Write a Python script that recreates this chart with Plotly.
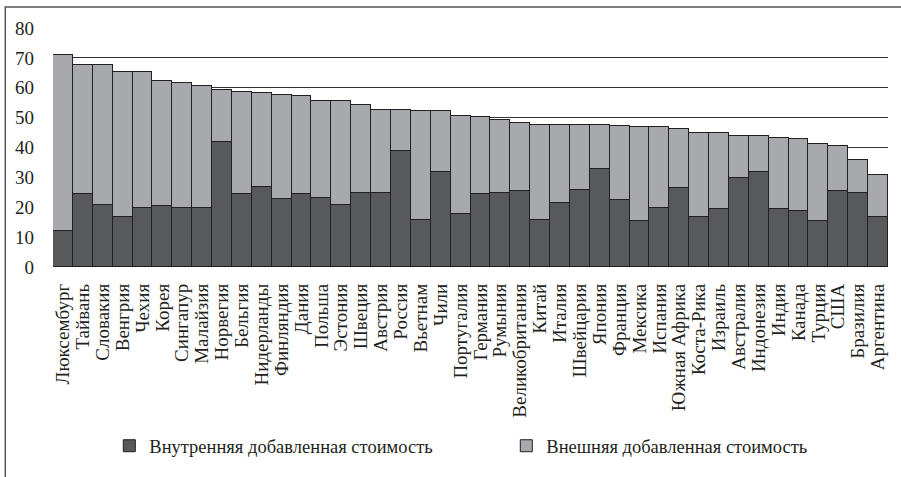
import plotly.graph_objects as go

countries = ["Люксембург", "Тайвань", "Словакия", "Венгрия", "Чехия", "Корея", "Сингапур",
             "Малайзия", "Норвегия", "Бельгия", "Нидерланды", "Финляндия", "Дания", "Польша",
             "Эстония", "Швеция", "Австрия", "Россия", "Вьетнам", "Чили", "Португалия",
             "Германия", "Румыния", "Великобритания", "Китай", "Италия", "Швейцария", "Япония",
             "Франция", "Мексика", "Испания", "Южная Африка", "Коста-Рика", "Израиль",
             "Австралия", "Индонезия", "Индия", "Канада", "Турция", "США", "Бразилия", "Аргентина"]

totals = [71.1, 67.6, 67.6, 65.2, 65.2, 62.3, 61.6, 60.6, 59.3, 58.6, 58.2, 57.6, 57.1, 55.7,
          55.7, 54.2, 52.7, 52.7, 52.2, 52.2, 50.7, 50.2, 49.2, 48.2, 47.7, 47.7, 47.7, 47.7,
          47.2, 46.7, 46.7, 46.1, 44.7, 44.7, 43.8, 43.8, 43.3, 42.8, 41.3, 40.4, 35.7, 30.8]

domestic = [12.0, 24.3, 20.9, 16.9, 19.9, 20.4, 19.9, 19.9, 41.8, 24.3, 26.8, 22.9, 24.3, 23.2,
            20.9, 24.9, 24.9, 38.7, 15.9, 31.9, 17.9, 24.3, 24.9, 25.4, 15.9, 21.4, 25.9, 32.8,
            22.5, 15.4, 19.9, 26.3, 16.9, 19.5, 29.9, 31.9, 19.5, 18.9, 15.4, 25.4, 24.9, 16.9]

foreign = [round(t - d, 1) for t, d in zip(totals, domestic)]

y_ticks = [0, 10, 20, 30, 40, 50, 60, 70, 80]
series_names = ["Внутренняя добавленная стоимость", "Внешняя добавленная стоимость"]

FONT = "Liberation Serif"
W, H = 901, 477
L, R, T, B = 52.7, 13.3, 28.3, 207.7
plot_w = W - L - R
plot_h = H - T - B

fig = go.Figure()
fig.add_trace(go.Bar(x=countries, y=domestic, name=series_names[0], legend="legend",
                     showlegend=True,
                     marker=dict(color="#58595b", line=dict(color="#231f20", width=1))))
fig.add_trace(go.Bar(x=countries, y=foreign, name=series_names[1], legend="legend2",
                     showlegend=True,
                     marker=dict(color="#a7a9ac", line=dict(color="#231f20", width=1))))

def px_to_paper_x(px):
    return (px - L) / plot_w

def px_to_paper_y(py):
    return (H - B - py) / plot_h

legend_font = dict(family=FONT, size=18.5, color="#231f20")

fig.update_layout(
    width=W, height=H,
    showlegend=True,
    barmode="stack", bargap=0,
    plot_bgcolor="white", paper_bgcolor="white",
    margin=dict(l=L, r=R, t=T, b=B, pad=0),
    font=dict(family=FONT, size=18.5, color="#231f20"),
    xaxis=dict(tickangle=-90, showgrid=False, showline=False, ticks="", automargin=False,
               tickmode="array", tickvals=countries, ticktext=countries,
               tickfont=dict(family=FONT, size=19, color="#231f20"),
               ticklabelstandoff=12),
    yaxis=dict(range=[0, 80], tickvals=y_ticks, showgrid=True, gridcolor="#333333",
               gridwidth=1, zeroline=False, showline=False, ticks="", automargin=False,
               tickfont=dict(family=FONT, size=19, color="#231f20"),
               ticklabelstandoff=18),
    legend=dict(orientation="h", x=px_to_paper_x(109), y=px_to_paper_y(450),
                xanchor="left", yanchor="middle", font=legend_font, visible=True,
                bgcolor="rgba(0,0,0,0)"),
    legend2=dict(orientation="h", x=px_to_paper_x(506), y=px_to_paper_y(450),
                 xanchor="left", yanchor="middle", font=legend_font, visible=True,
                 bgcolor="rgba(0,0,0,0)"),
    shapes=[dict(type="rect", xref="paper", yref="paper",
                 x0=px_to_paper_x(5), x1=px_to_paper_x(W + 10),
                 y0=px_to_paper_y(H + 10), y1=px_to_paper_y(7),
                 line=dict(color="#555555", width=1.5), layer="below")],
)

fig.write_html("out.html")
